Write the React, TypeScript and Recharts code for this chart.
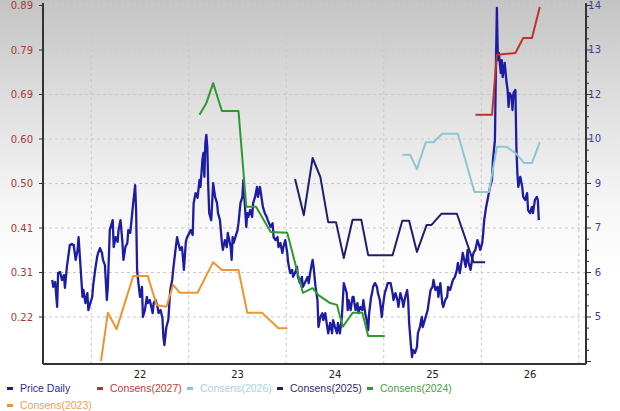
import { LineChart, Line, XAxis, YAxis, CartesianGrid, ReferenceLine } from 'recharts'

type Pt = [number, number]

// axis labels as printed on the chart
const X_TICKS = [22, 23, 24, 25, 26]
const X_GRID = [21.5, 22.5, 23.5, 24.5, 25.5, 26.5]
const LEFT_LABELS = ['0.89', '0.79', '0.69', '0.60', '0.50', '0.41', '0.31', '0.22']
const RIGHT_LABELS = ['14', '13', '12', '10', '9', '7', '6', '5']

// [year, price] (right axis)
const PRICE_DAILY: Pt[] = [
  [21.10, 6.07], [21.11, 5.87], [21.13, 6.01], [21.15, 5.29], [21.16, 6.27], [21.18, 6.30],
  [21.20, 6.07], [21.22, 6.21], [21.23, 5.84], [21.25, 6.45], [21.26, 6.65], [21.28, 7.08],
  [21.30, 7.11], [21.32, 7.08], [21.34, 6.65], [21.36, 6.94], [21.37, 7.31], [21.39, 6.45],
  [21.41, 5.58], [21.42, 5.78], [21.44, 5.40], [21.46, 5.69], [21.47, 5.20], [21.49, 5.40],
  [21.51, 5.58], [21.52, 5.92], [21.54, 6.36], [21.56, 6.73], [21.57, 6.85], [21.59, 6.99],
  [21.61, 6.85], [21.62, 6.65], [21.64, 6.50], [21.66, 5.49], [21.67, 5.87], [21.69, 7.51],
  [21.72, 7.80], [21.73, 7.02], [21.75, 7.31], [21.77, 7.17], [21.78, 7.51], [21.80, 7.80],
  [21.82, 7.14], [21.83, 6.65], [21.85, 7.02], [21.87, 7.14], [21.88, 7.51], [21.90, 7.43],
  [21.92, 8.00], [21.93, 8.29], [21.95, 8.81], [21.96, 8.09], [21.97, 6.36], [21.98, 6.07],
  [22.00, 5.58], [22.02, 5.87], [22.03, 5.00], [22.05, 5.20], [22.07, 5.58], [22.08, 5.40],
  [22.10, 5.49], [22.13, 5.11], [22.14, 5.40], [22.16, 5.49], [22.18, 5.29], [22.19, 5.11],
  [22.21, 5.20], [22.23, 4.97], [22.24, 4.42], [22.25, 4.19], [22.27, 4.71], [22.29, 4.91],
  [22.31, 5.78], [22.33, 6.07], [22.34, 6.36], [22.36, 6.85], [22.38, 7.31], [22.39, 7.17],
  [22.41, 6.94], [22.43, 7.02], [22.44, 6.73], [22.45, 6.36], [22.47, 7.17], [22.48, 7.28],
  [22.52, 7.51], [22.54, 7.37], [22.55, 8.29], [22.57, 8.58], [22.59, 8.44], [22.61, 8.96],
  [22.62, 8.76], [22.64, 9.54], [22.65, 9.74], [22.66, 9.05], [22.67, 10.03], [22.68, 10.26],
  [22.69, 9.91], [22.70, 8.76], [22.71, 8.00], [22.73, 7.80], [22.74, 8.29], [22.75, 8.87],
  [22.77, 8.47], [22.79, 8.29], [22.80, 8.00], [22.82, 7.80], [22.84, 7.14], [22.85, 6.94],
  [22.87, 7.22], [22.89, 7.02], [22.90, 7.43], [22.93, 7.02], [22.94, 6.65], [22.95, 7.31],
  [22.96, 7.14], [23.00, 7.51], [23.01, 7.71], [23.03, 8.29], [23.05, 8.47], [23.06, 8.96],
  [23.07, 8.47], [23.09, 7.60], [23.10, 8.00], [23.11, 7.89], [23.13, 8.09], [23.15, 7.89],
  [23.16, 8.29], [23.18, 8.47], [23.20, 8.76], [23.21, 8.47], [23.23, 8.76], [23.25, 8.38],
  [23.26, 8.18], [23.28, 8.00], [23.30, 7.89], [23.31, 7.80], [23.34, 7.60], [23.36, 7.71],
  [23.37, 7.31], [23.39, 7.22], [23.41, 7.31], [23.42, 7.02], [23.44, 7.14], [23.46, 6.85],
  [23.47, 7.02], [23.49, 7.22], [23.51, 6.85], [23.52, 6.56], [23.54, 6.27], [23.56, 6.36],
  [23.57, 6.16], [23.59, 6.27], [23.61, 6.45], [23.62, 6.16], [23.64, 5.98], [23.66, 6.16],
  [23.67, 5.87], [23.69, 5.98], [23.72, 6.16], [23.73, 5.98], [23.75, 6.36], [23.77, 6.65],
  [23.78, 6.45], [23.80, 5.87], [23.82, 5.49], [23.83, 4.71], [23.85, 5.00], [23.87, 5.11],
  [23.88, 4.91], [23.90, 5.11], [23.92, 4.71], [23.93, 4.53], [23.95, 4.83], [23.97, 4.53],
  [23.98, 4.91], [24.00, 4.71], [24.02, 4.53], [24.03, 4.83], [24.05, 4.53], [24.07, 5.00],
  [24.08, 5.49], [24.09, 5.98], [24.12, 5.69], [24.13, 5.20], [24.14, 5.49], [24.16, 5.20],
  [24.18, 5.58], [24.19, 5.58], [24.21, 5.20], [24.23, 5.40], [24.24, 5.11], [24.26, 5.29],
  [24.28, 5.20], [24.29, 5.49], [24.31, 5.11], [24.33, 4.83], [24.34, 4.62], [24.35, 5.11],
  [24.37, 5.58], [24.38, 5.69], [24.39, 5.87], [24.41, 5.98], [24.43, 5.87], [24.44, 5.69],
  [24.46, 5.49], [24.48, 5.00], [24.49, 5.29], [24.51, 5.69], [24.53, 5.87], [24.54, 5.98],
  [24.57, 5.98], [24.59, 5.69], [24.60, 5.49], [24.62, 5.69], [24.64, 5.49], [24.65, 5.29],
  [24.67, 5.69], [24.69, 5.49], [24.70, 5.29], [24.72, 5.58], [24.74, 5.78], [24.75, 5.49],
  [24.76, 4.83], [24.78, 4.13], [24.79, 3.84], [24.80, 4.05], [24.82, 3.96], [24.84, 4.13],
  [24.85, 4.53], [24.87, 4.71], [24.89, 5.00], [24.90, 4.71], [24.92, 4.91], [24.95, 5.20],
  [24.96, 5.40], [24.98, 5.78], [25.00, 5.87], [25.01, 6.07], [25.03, 5.78], [25.05, 5.87],
  [25.06, 5.58], [25.08, 5.98], [25.10, 5.40], [25.11, 5.29], [25.13, 5.49], [25.15, 5.58],
  [25.16, 5.87], [25.18, 5.78], [25.20, 5.98], [25.21, 6.07], [25.23, 6.16], [25.25, 6.36],
  [25.26, 6.56], [25.28, 6.27], [25.30, 6.65], [25.31, 6.85], [25.34, 6.45], [25.36, 6.94],
  [25.37, 6.56], [25.39, 6.36], [25.41, 6.73], [25.42, 6.85], [25.44, 6.94], [25.46, 7.22],
  [25.47, 7.14], [25.49, 6.94], [25.51, 7.14], [25.52, 7.43], [25.53, 7.80], [25.55, 8.18],
  [25.56, 8.32], [25.57, 8.47], [25.59, 8.76], [25.61, 8.96], [25.62, 9.54], [25.64, 10.11],
  [25.65, 12.22], [25.66, 13.93], [25.67, 12.42], [25.68, 12.63], [25.70, 12.05], [25.71, 12.42],
  [25.72, 11.93], [25.74, 12.34], [25.76, 11.76], [25.77, 11.56], [25.78, 11.07], [25.79, 11.47],
  [25.81, 11.36], [25.82, 10.98], [25.83, 11.47], [25.85, 11.56], [25.86, 9.91], [25.87, 9.16],
  [25.88, 8.76], [25.90, 9.05], [25.92, 8.76], [25.93, 8.47], [25.95, 8.38], [25.97, 8.58],
  [25.98, 8.09], [26.00, 8.00], [26.02, 8.18], [26.03, 8.00], [26.05, 8.38], [26.07, 8.47],
  [26.08, 8.38], [26.09, 7.80],
]

// [year, EPS consensus] (left axis)
const CONSENS_2027: Pt[] = [
  [25.44, 0.655], [25.61, 0.655], [25.66, 0.784], [25.85, 0.788], [25.93, 0.82], [26.02, 0.82], [26.10, 0.887],
]
const CONSENS_2026: Pt[] = [
  [24.69, 0.569], [24.77, 0.569], [24.84, 0.538], [24.93, 0.596], [25.01, 0.596], [25.10, 0.614],
  [25.26, 0.614], [25.43, 0.489], [25.58, 0.489], [25.66, 0.586], [25.76, 0.586], [25.86, 0.571],
  [25.94, 0.551], [26.02, 0.551], [26.10, 0.596],
]
const CONSENS_2025: Pt[] = [
  [23.59, 0.517], [23.68, 0.439], [23.77, 0.562], [23.85, 0.521], [23.93, 0.424], [24.01, 0.424],
  [24.09, 0.347], [24.18, 0.429], [24.27, 0.429], [24.34, 0.353], [24.59, 0.353], [24.69, 0.427],
  [24.76, 0.427], [24.84, 0.36], [24.94, 0.418], [24.99, 0.418], [25.09, 0.442], [25.25, 0.442],
  [25.42, 0.338], [25.54, 0.338],
]
const CONSENS_2024: Pt[] = [
  [22.61, 0.655], [22.68, 0.68], [22.75, 0.723], [22.84, 0.663], [23.01, 0.663], [23.09, 0.457],
  [23.19, 0.457], [23.34, 0.403], [23.51, 0.401], [23.67, 0.272], [23.77, 0.282], [23.83, 0.267],
  [23.95, 0.25], [24.02, 0.246], [24.08, 0.199], [24.18, 0.229], [24.28, 0.229], [24.34, 0.179],
  [24.51, 0.179],
]
const CONSENS_2023: Pt[] = [
  [21.60, 0.125], [21.67, 0.229], [21.76, 0.194], [21.93, 0.308], [22.08, 0.308], [22.17, 0.246],
  [22.27, 0.242], [22.34, 0.289], [22.41, 0.272], [22.59, 0.272], [22.75, 0.338], [22.84, 0.321],
  [23.01, 0.321], [23.10, 0.229], [23.25, 0.229], [23.42, 0.196], [23.51, 0.196],
]

const SERIES = [
  { name: 'Price Daily', data: PRICE_DAILY, color: '#1d1da3', text: '#2b2b96', axis: 'right' },
  { name: 'Consens(2027)', data: CONSENS_2027, color: '#c0302e', text: '#c23a36', axis: 'left' },
  { name: 'Consens(2026)', data: CONSENS_2026, color: '#8cc6d6', text: '#a9d2e0', axis: 'left' },
  { name: 'Consens(2025)', data: CONSENS_2025, color: '#1f1f6b', text: '#2b2b75', axis: 'left' },
  { name: 'Consens(2024)', data: CONSENS_2024, color: '#2f992f', text: '#45a045', axis: 'left' },
  { name: 'Consens(2023)', data: CONSENS_2023, color: '#ef952f', text: '#eba052', axis: 'left' },
]

// equally spaced ticks carrying the printed labels
const LEFT_TICKS = LEFT_LABELS.map((_, i) => 0.89 - (i * (0.89 - 0.22)) / 7)
const RIGHT_STEP = 9 / 28
const RIGHT_TICKS = Array.from({ length: 33 }, (_, k) => 14 - k * RIGHT_STEP)

const FONT = '"DejaVu Sans", Verdana, sans-serif'

function leftLabel(v: number) {
  const i = LEFT_TICKS.findIndex(t => Math.abs(t - v) < 1e-6)
  return i >= 0 ? LEFT_LABELS[i] : ''
}

function RightTick(props: any) {
  const { x, y, payload } = props
  const k = Math.round((14 - payload.value) / RIGHT_STEP)
  const major = k % 4 === 0
  return (
    <g>
      <line x1={x} y1={y} x2={x + (major ? 5 : 3)} y2={y} stroke="#333" strokeWidth={1} />
      {major && (
        <text x={x + 15} y={y} dy="0.35em" textAnchor="end" fill="#3d3d9c" fontSize={10} fontFamily={FONT}>
          {RIGHT_LABELS[k / 4]}
        </text>
      )}
    </g>
  )
}

const LEGEND_ROWS = [
  [{ i: 0, left: 7 }, { i: 1, left: 97 }, { i: 2, left: 187 }, { i: 3, left: 277 }, { i: 4, left: 367 }],
  [{ i: 5, left: 7 }],
]

export default function App() {
  return (
    <div
      style={{
        position: 'absolute', left: 0, top: 0, width: 620, height: 411, overflow: 'hidden',
        background: 'linear-gradient(to bottom, #c4c4c4 0%, #e2e2e2 28%, #f6f6f6 50%, #ffffff 68%)',
      }}
    >
      <LineChart width={620} height={411} margin={{ top: 3, right: 0, bottom: 27, left: 0 }}>
        <CartesianGrid yAxisId="left" vertical={false} stroke="#c9c9c9" strokeDasharray="3 3" />
        {X_GRID.map(g => (
          <ReferenceLine key={g} x={g} yAxisId="left" stroke="#c9c9c9" strokeDasharray="3 3" />
        ))}
        <XAxis
          type="number"
          dataKey="t"
          domain={[21.005, 26.574]}
          allowDataOverflow
          ticks={X_TICKS}
          interval={0}
          height={20}
          tickLine={false}
          tickMargin={1}
          axisLine={{ stroke: '#333', strokeWidth: 2 }}
          tick={{ fill: '#222', fontSize: 10, fontFamily: FONT }}
        />
        <YAxis
          yAxisId="left"
          orientation="left"
          type="number"
          domain={[0.1189, 0.8954]}
          allowDataOverflow
          ticks={LEFT_TICKS}
          interval={0}
          width={43}
          tickSize={4}
          tickMargin={6}
          tickFormatter={leftLabel}
          axisLine={{ stroke: '#333', strokeWidth: 2 }}
          tickLine={{ stroke: '#333' }}
          tick={{ fill: '#a63a3a', fontSize: 10, fontFamily: FONT }}
        />
        <YAxis
          yAxisId="right"
          orientation="right"
          type="number"
          domain={[3.642, 14.072]}
          allowDataOverflow
          ticks={RIGHT_TICKS}
          interval={0}
          width={34}
          tickSize={0}
          tickMargin={0}
          tickLine={false}
          axisLine={{ stroke: '#333', strokeWidth: 2 }}
          tick={<RightTick />}
        />
        {SERIES.map(s => (
          <Line
            key={s.name}
            yAxisId={s.axis}
            data={s.data.map(([t, v]) => ({ t, v }))}
            dataKey="v"
            type="linear"
            stroke={s.color}
            strokeWidth={s.axis === 'right' ? 2.3 : 2}
            strokeLinejoin="round"
            dot={false}
            activeDot={false}
            isAnimationActive={false}
          />
        ))}
      </LineChart>
      {LEGEND_ROWS.map((row, r) =>
        row.map(({ i, left }) => (
          <div
            key={SERIES[i].name}
            style={{
              position: 'absolute', left, top: 381 + r * 17, height: 14, display: 'flex',
              alignItems: 'center', fontFamily: '"Liberation Sans", Arial, sans-serif', fontSize: 10.5,
              color: SERIES[i].text, whiteSpace: 'nowrap',
            }}
          >
            <span style={{ display: 'inline-block', width: 6, height: 3, background: SERIES[i].color, marginRight: 7 }} />
            {SERIES[i].name}
          </div>
        ))
      )}
    </div>
  )
}
